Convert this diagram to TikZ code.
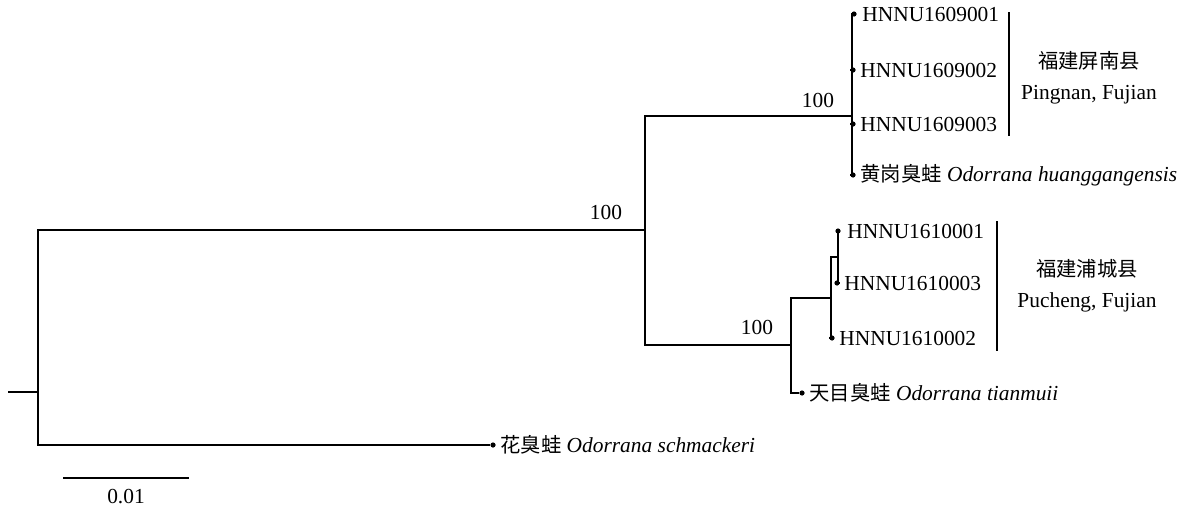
\documentclass[tikz,border=0pt]{standalone}
\usepackage{fontspec}
\setmainfont{Liberation Serif}
\newfontfamily\cjk[Scale=0.95]{Noto Sans CJK SC}
\usetikzlibrary{positioning}

\begin{document}
\begin{tikzpicture}[
    x=0.5pt, y=-0.5pt,
    font=\fontsize{10.7}{12.5}\selectfont,
    br/.style   ={line width=0.65pt},
    tip/.style  ={circle, fill, inner sep=0pt, minimum size=2.6pt},
    lab/.style  ={anchor=west, inner sep=0pt},
    boot/.style ={inner sep=0pt},
    grp/.style  ={align=center, inner sep=0pt},
    bar/.style  ={line width=0.65pt}
]
\useasboundingbox (0,0) rectangle (1188,509);

% internal nodes
\coordinate (base) at (8,392);
\coordinate (root) at (38,392);
\coordinate (ingrp) at (645,230);
\coordinate (hg)   at (852,116);
\coordinate (tm)   at (791,345);
\coordinate (pc)   at (831,298);
\coordinate (pcA)  at (838,257);

% tips
\node[tip] (p1) at (854,14)  {};
\node[tip] (p2) at (853,70)  {};
\node[tip] (p3) at (853,124) {};
\node[tip] (hgg) at (853,175) {};
\node[tip] (c1) at (838,231) {};
\node[tip] (c3) at (837,283) {};
\node[tip] (c2) at (832,338) {};
\node[tip] (tmu) at (802,393) {};
\node[tip] (sch) at (493,445) {};

% tip labels
\node[lab, right=2.5pt of p1] {HNNU1609001};
\node[lab, right=2pt of p2]  {HNNU1609002};
\node[lab, right=2pt of p3]  {HNNU1609003};
\node[lab, right=2pt of hgg] {{\cjk 黄岗臭蛙} \textit{Odorrana huanggangensis}};
\node[lab, right=3pt of c1]  {HNNU1610001};
\node[lab, right=2pt of c3]  {HNNU1610003};
\node[lab, right=2pt of c2]  {HNNU1610002};
\node[lab, right=2pt of tmu] {{\cjk 天目臭蛙} \textit{Odorrana tianmuii}};
\node[lab, right=2pt of sch] {{\cjk 花臭蛙} \textit{Odorrana schmackeri}};

% branches
\draw[br] (base) -- (root);
\draw[br] (root) |- (ingrp);
\draw[br] (root) |- (sch);
\draw[br] (ingrp) |- (hg);
\draw[br] (ingrp) |- (tm);
\draw[br] (hg) |- (p1);
\draw[br] (hg) |- (p2);
\draw[br] (hg) |- (p3);
\draw[br] (hg) |- (hgg);
\draw[br] (tm) |- (pc);
\draw[br] (tm) |- (tmu);
\draw[br] (pc) |- (pcA);
\draw[br] (pc) |- (c2);
\draw[br] (pcA) |- (c1);
\draw[br] (pcA) |- (c3);

% bootstrap values
\node[boot] (bs1) at (606,212) {100};
\node[boot] (bs2) at (818,100) {100};
\node[boot] (bs3) at (757,327) {100};

% locality bars
\coordinate (pnT) at (1009,12);
\coordinate (pnB) at (1009,136);
\coordinate (pcT) at (997,221);
\coordinate (pcB) at (997,351);
\draw[bar] (pnT) -- (pnB);
\draw[bar] (pcT) -- (pcB);
\node[grp] (pn) at (1089,78) {{\cjk 福建屏南县}\\[3pt]Pingnan, Fujian};
\node[grp] (pu) at (1087,286) {{\cjk 福建浦城县}\\[3pt]Pucheng, Fujian};

% scale bar
\coordinate (sL) at (63,478);
\coordinate (sR) at (189,478);
\draw[bar] (sL) -- (sR);
\node[boot] (sc) at (126,497) {0.01};
\end{tikzpicture}
\end{document}
